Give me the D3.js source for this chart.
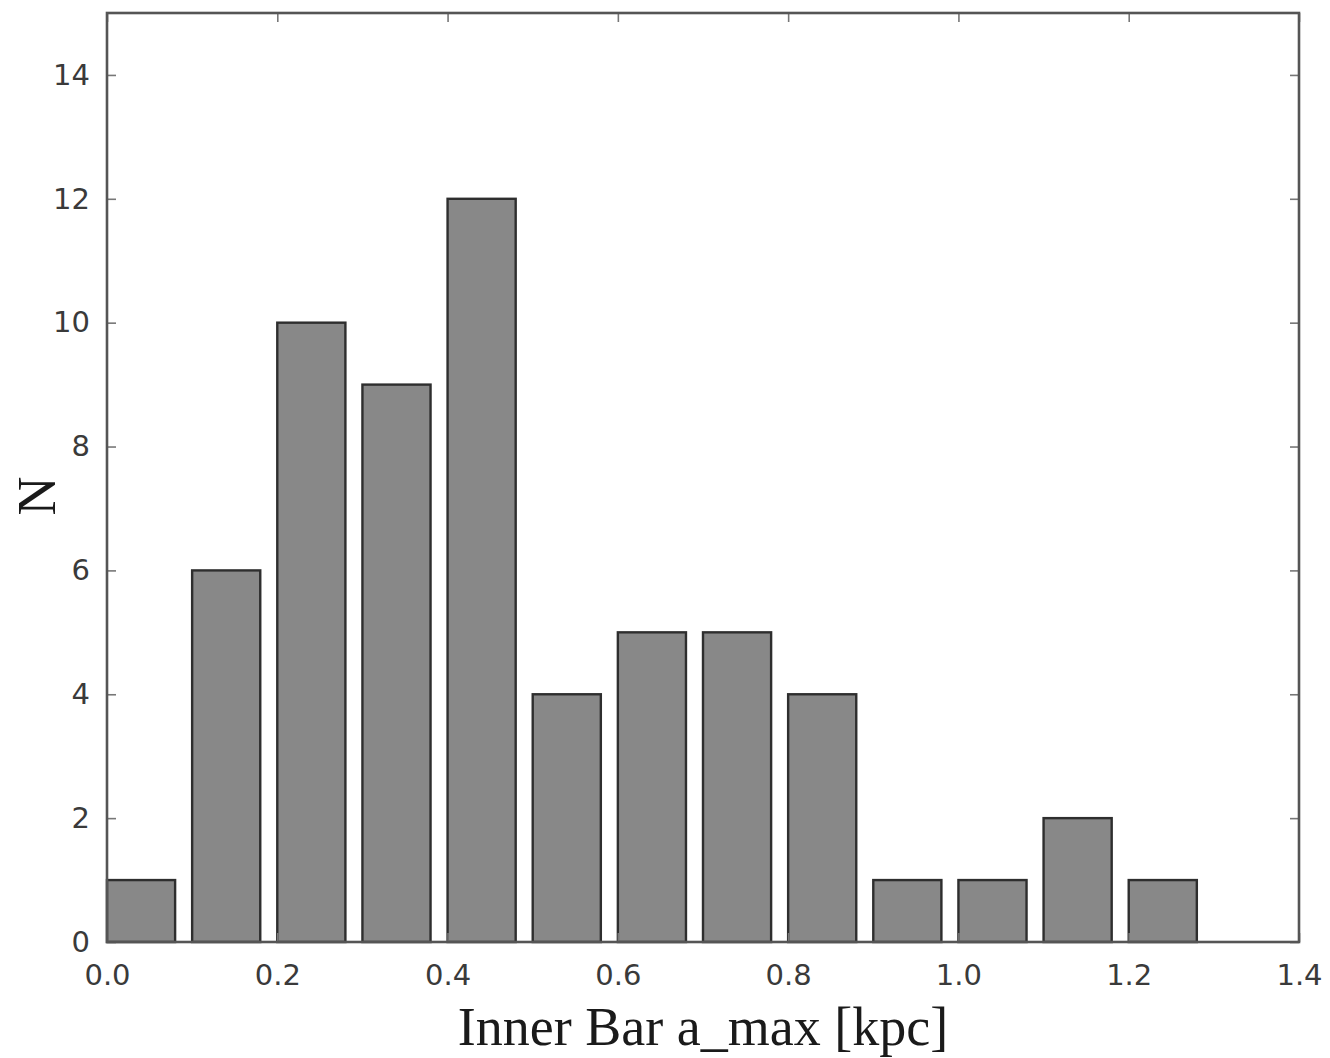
<!DOCTYPE html>
<html>
<head>
<meta charset="utf-8">
<script src="https://cdn.jsdelivr.net/npm/d3@7"></script>
<style>
  html, body { margin: 0; padding: 0; background: #fff; }
  svg { display: block; }
</style>
</head>
<body>
<script>
// Histogram of inner bar semi-major axis lengths
const binStarts = [0.0, 0.1, 0.2, 0.3, 0.4, 0.5, 0.6, 0.7, 0.8, 0.9, 1.0, 1.1, 1.2];
const counts    = [1, 6, 10, 9, 12, 4, 5, 5, 4, 1, 1, 2, 1];
const barWidth = 0.08;
const xTicks = [0.0, 0.2, 0.4, 0.6, 0.8, 1.0, 1.2, 1.4];
const yTicks = [0, 2, 4, 6, 8, 10, 12, 14];
const xLabel = "Inner Bar a_max [kpc]";
const yLabel = "N";

const W = 1330, H = 1058;
const plotL = 107, plotR = 1299, plotT = 13, plotB = 942;

const svg = d3.select("body").append("svg").attr("width", W).attr("height", H);

const x = d3.scaleLinear().domain([0, 1.4]).range([plotL, plotR]);
const y = d3.scaleLinear().domain([0, 15]).range([plotB, plotT]);

// bars
svg.append("g").selectAll("rect")
  .data(binStarts.map((b, i) => ({ b, n: counts[i] })))
  .join("rect")
  .attr("x", d => x(d.b))
  .attr("width", d => x(d.b + barWidth) - x(d.b))
  .attr("y", d => y(d.n))
  .attr("height", d => y(0) - y(d.n))
  .attr("fill", "#888888")
  .attr("stroke", "#2e2e2e")
  .attr("stroke-width", 2.4);

// inward ticks on all four sides
const tickLen = 9;
const tickStyle = g => g.call(s => s.select(".domain").remove())
  .call(s => s.selectAll(".tick line").attr("stroke", "#777").attr("stroke-width", 1.6));

const gx = svg.append("g").attr("transform", `translate(0,${plotB})`)
  .call(d3.axisBottom(x).tickValues(xTicks).tickSize(-tickLen).tickPadding(22).tickFormat(d3.format(".1f")))
  .call(tickStyle);
gx.selectAll(".tick text").attr("font-family", "DejaVu Sans, sans-serif")
  .attr("font-size", 29).attr("fill", "#3a3a3a");

svg.append("g").attr("transform", `translate(0,${plotT})`)
  .call(d3.axisTop(x).tickValues(xTicks).tickSize(-tickLen).tickFormat(""))
  .call(tickStyle);

const gy = svg.append("g").attr("transform", `translate(${plotL},0)`)
  .call(d3.axisLeft(y).tickValues(yTicks).tickSize(-tickLen).tickPadding(17).tickFormat(d3.format("d")))
  .call(tickStyle);
gy.selectAll(".tick text").attr("font-family", "DejaVu Sans, sans-serif")
  .attr("font-size", 29).attr("fill", "#3a3a3a");

svg.append("g").attr("transform", `translate(${plotR},0)`)
  .call(d3.axisRight(y).tickValues(yTicks).tickSize(-tickLen).tickFormat(""))
  .call(tickStyle);

// frame
svg.append("rect")
  .attr("x", plotL).attr("y", plotT)
  .attr("width", plotR - plotL).attr("height", plotB - plotT)
  .attr("fill", "none").attr("stroke", "#555").attr("stroke-width", 2.6);

// axis titles
svg.append("text")
  .attr("x", (plotL + plotR) / 2).attr("y", 1045)
  .attr("text-anchor", "middle")
  .attr("font-family", "Liberation Serif, Times New Roman, serif")
  .attr("font-size", 54).attr("fill", "#1a1a1a")
  .text(xLabel);

svg.append("text")
  .attr("transform", "translate(55,496) rotate(-90)")
  .attr("text-anchor", "middle")
  .attr("font-family", "Liberation Serif, Times New Roman, serif")
  .attr("font-size", 54).attr("fill", "#1a1a1a")
  .text(yLabel);
</script>
</body>
</html>
